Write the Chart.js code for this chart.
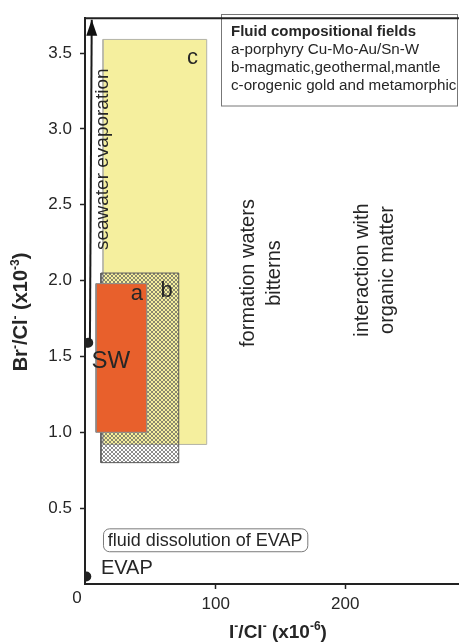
<!DOCTYPE html>
<html>
<head>
<meta charset="utf-8">
<script src="https://cdn.jsdelivr.net/npm/chart.js@4.4.1/dist/chart.umd.min.js"></script>
<style>
  html, body { margin: 0; padding: 0; background: #fff; }
  #wrap { width: 459px; height: 644px; position: relative; }
</style>
</head>
<body>
<div id="wrap"><canvas id="chart"></canvas></div>
<script>
// Fluid compositional fields: I/Cl (x10^-6) and Br/Cl (x10^-3) ranges
const fieldNames   = ['a', 'b', 'c'];
const fieldIClMin  = [7.5, 11.3, 12.9];
const fieldIClMax  = [46.7, 71.4, 93];
const fieldBrClMin = [1.0, 0.8, 0.92];
const fieldBrClMax = [1.98, 2.05, 3.59];

// End members: seawater and evaporite
const endMemberNames = ['SW', 'EVAP'];
const endMemberICl   = [1.5, 0];
const endMemberBrCl  = [1.59, 0.05];

// Seawater evaporation trend (start, end)
const evapTrendICl  = [2.8, 4.2];
const evapTrendBrCl = [1.6, 3.72];

// Axis ticks
const xTickValues = [100, 200];
const yTickValues = [0.5, 1.0, 1.5, 2.0, 2.5, 3.0, 3.5];

const FONT = '"Liberation Sans", Arial, Helvetica, sans-serif';
const INK = '#262626';

function crossHatch() {
  const t = document.createElement('canvas');
  t.width = 4; t.height = 4;
  const g = t.getContext('2d');
  g.strokeStyle = 'rgba(85,85,85,0.75)';
  g.lineWidth = 0.9;
  g.beginPath();
  g.moveTo(-1, -1); g.lineTo(5, 5);
  g.moveTo(5, -1); g.lineTo(-1, 5);
  g.stroke();
  return g.createPattern(t, 'repeat');
}

function rectPoints(i) {
  const x0 = fieldIClMin[i], x1 = fieldIClMax[i];
  const y0 = fieldBrClMin[i], y1 = fieldBrClMax[i];
  return [{x: x0, y: y0}, {x: x1, y: y0}, {x: x1, y: y1}, {x: x0, y: y1}, {x: x0, y: y0}];
}

const fieldStyles = {
  a: {bg: '#E8602C', border: '#8a8a8a', order: 1},
  b: {bg: crossHatch(), border: '#5a5a5a', order: 2},
  c: {bg: '#F5EF9E', border: '#b4b4a8', order: 3}
};

const datasets = fieldNames.map((n, i) => ({
  label: n,
  data: rectPoints(i),
  showLine: true,
  fill: 'shape',
  tension: 0,
  pointRadius: 0,
  borderWidth: 1,
  borderColor: fieldStyles[n].border,
  backgroundColor: fieldStyles[n].bg,
  order: fieldStyles[n].order
}));

datasets.push({
  label: 'trend',
  data: evapTrendICl.map((x, i) => ({x, y: evapTrendBrCl[i]})),
  showLine: true,
  fill: false,
  pointRadius: 0,
  borderWidth: 2,
  borderColor: '#1a1a1a',
  order: 0
});

datasets.push({
  label: 'end members',
  data: endMemberICl.map((x, i) => ({x, y: endMemberBrCl[i]})),
  pointRadius: 5,
  pointBackgroundColor: '#222',
  pointBorderWidth: 0,
  order: 0
});

// Text with superscript parts: [text, isSup]
function drawRich(ctx, parts, cx, cy, size, weight) {
  const supSize = Math.round(size * 0.62);
  let w = 0;
  parts.forEach(([t, sup]) => {
    ctx.font = `${weight} ${sup ? supSize : size}px ${FONT}`;
    w += ctx.measureText(t).width;
  });
  let x = cx - w / 2;
  ctx.textAlign = 'left';
  ctx.textBaseline = 'alphabetic';
  parts.forEach(([t, sup]) => {
    ctx.font = `${weight} ${sup ? supSize : size}px ${FONT}`;
    ctx.fillText(t, x, sup ? cy - size * 0.42 : cy);
    x += ctx.measureText(t).width;
  });
}

const annotations = {
  id: 'annotations',
  afterDatasetsDraw(chart) {
    const {ctx, chartArea: ca} = chart;
    const xs = chart.scales.x, ys = chart.scales.y;
    const px = v => xs.getPixelForValue(v);
    const py = v => ys.getPixelForValue(v);
    const W = chart.width;
    ctx.save();
    ctx.fillStyle = INK;

    // arrow head on the evaporation trend
    const n = evapTrendICl.length - 1;
    const tx = px(evapTrendICl[n]), ty = py(evapTrendBrCl[n]);
    ctx.fillStyle = '#111';
    ctx.beginPath();
    ctx.moveTo(tx, ty);
    ctx.lineTo(tx - 5.5, ty + 16);
    ctx.lineTo(tx + 5.5, ty + 16);
    ctx.closePath();
    ctx.fill();
    ctx.fillStyle = INK;

    // field letters
    ctx.textAlign = 'center';
    ctx.textBaseline = 'middle';
    ctx.font = `22px ${FONT}`;
    ctx.fillText('c', px(82), py(3.47));
    ctx.fillText('a', px(39), py(1.91));
    ctx.fillText('b', px(62), py(1.93));

    ctx.font = `24px ${FONT}`;
    ctx.fillText(endMemberNames[0], px(19), py(1.47));
    ctx.textAlign = 'left';
    ctx.font = `20px ${FONT}`;
    ctx.fillText(endMemberNames[1], px(11.3), py(0.105));

    // rotated process labels
    const vtext = (lines, x, yv, size, gap) => {
      ctx.save();
      ctx.translate(px(x), py(yv));
      ctx.rotate(-Math.PI / 2);
      ctx.textAlign = 'center';
      ctx.textBaseline = 'middle';
      ctx.font = `${size}px ${FONT}`;
      lines.forEach((l, i) => ctx.fillText(l, 0, (i - (lines.length - 1) / 2) * gap));
      ctx.restore();
    };
    vtext(['seawater evaporation'], 12.7, 2.8, 19, 0);
    vtext(['formation waters', 'bitterns'], 135.5, 2.05, 20, 26);
    vtext(['interaction with', 'organic matter'], 222.6, 2.07, 20, 25);

    // dissolution box
    const bx0 = px(12.9), bx1 = px(170.7), by0 = py(0.367), by1 = py(0.216);
    ctx.strokeStyle = '#7a7a7a';
    ctx.lineWidth = 1;
    ctx.beginPath();
    ctx.roundRect(bx0 + 0.5, by0 + 0.5, bx1 - bx0, by1 - by0, 6);
    ctx.stroke();
    ctx.textAlign = 'center';
    ctx.textBaseline = 'middle';
    ctx.font = `18px ${FONT}`;
    ctx.fillText('fluid dissolution of EVAP', (bx0 + bx1) / 2, (by0 + by1) / 2 + 1);

    // legend box
    ctx.fillStyle = '#fff';
    ctx.fillRect(221, 15, W - 222, 91);
    ctx.strokeStyle = '#777';
    ctx.lineWidth = 1;
    ctx.strokeRect(221.5, 14.5, W - 222.5 - 0.5, 91.5);
    ctx.fillStyle = INK;
    ctx.textAlign = 'left';
    ctx.textBaseline = 'middle';
    ctx.font = `bold 15px ${FONT}`;
    ctx.fillText('Fluid compositional fields', 231, 32);
    ctx.font = `15.2px ${FONT}`;
    ctx.fillText('a-porphyry Cu-Mo-Au/Sn-W', 231, 50);
    ctx.fillText('b-magmatic,geothermal,mantle', 231, 68);
    ctx.fillText('c-orogenic gold and metamorphic', 231, 86);

    // top frame line and bottom axis carried to the page edge
    ctx.strokeStyle = '#222';
    ctx.lineWidth = 2;
    ctx.beginPath();
    ctx.moveTo(ca.left - 1, ca.top);
    ctx.lineTo(W, ca.top);
    ctx.moveTo(ca.right - 1, ca.bottom);
    ctx.lineTo(W, ca.bottom);
    ctx.stroke();

    // origin label
    ctx.font = `17px ${FONT}`;
    ctx.textAlign = 'center';
    ctx.fillText('0', ca.left - 8, ca.bottom + 14);

    // axis titles
    drawRich(ctx, [['I', false], ['-', true], ['/Cl', false], ['-', true], [' (x10', false], ['-6', true], [')', false]],
      278, 638, 19, 'bold');
    ctx.save();
    ctx.translate(27, 312);
    ctx.rotate(-Math.PI / 2);
    drawRich(ctx, [['Br', false], ['-', true], ['/Cl', false], ['-', true], [' (x10', false], ['-3', true], [')', false]],
      0, 0, 20, 'bold');
    ctx.restore();

    ctx.restore();
  }
};

new Chart(document.getElementById('chart'), {
  type: 'scatter',
  data: {datasets},
  options: {
    responsive: true,
    maintainAspectRatio: false,
    animation: false,
    layout: {padding: {top: 14, left: 0, right: 0, bottom: 0}},
    plugins: {legend: {display: false}, tooltip: {enabled: false}},
    scales: {
      x: {
        type: 'linear',
        min: -1,
        max: 284,
        afterBuildTicks: s => { s.ticks = xTickValues.map(v => ({value: v})); },
        afterFit: s => { s.height = 60; },
        ticks: {color: INK, font: {family: FONT, size: 17}, padding: 5, maxRotation: 0},
        grid: {drawOnChartArea: false, drawTicks: true, tickLength: 5, tickWidth: 1.5, tickColor: '#222'},
        border: {display: true, width: 2, color: '#222'}
      },
      y: {
        type: 'linear',
        min: 0,
        max: 3.73,
        afterBuildTicks: s => { s.ticks = yTickValues.map(v => ({value: v})); },
        afterFit: s => { s.width = 85; },
        ticks: {color: INK, font: {family: FONT, size: 17}, padding: 8, callback: v => Number(v).toFixed(1)},
        grid: {drawOnChartArea: false, drawTicks: true, tickLength: 5, tickWidth: 1.5, tickColor: '#222'},
        border: {display: true, width: 2, color: '#222'}
      }
    }
  },
  plugins: [annotations]
});
</script>
</body>
</html>
